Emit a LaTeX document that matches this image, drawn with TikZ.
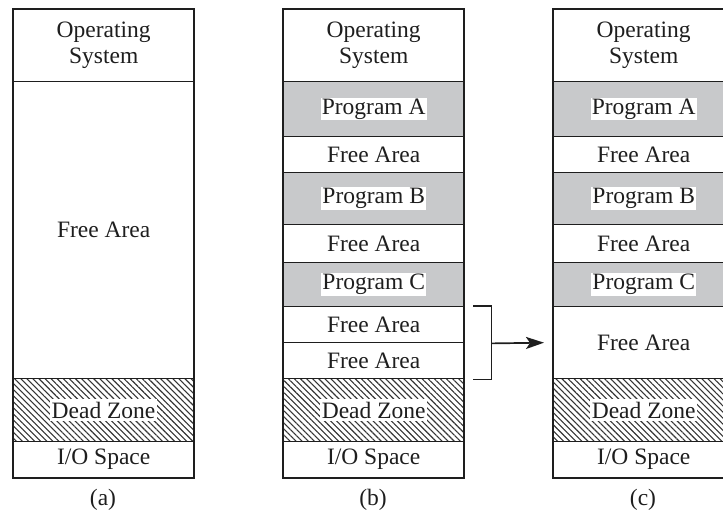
\documentclass[tikz,border=0pt]{standalone}
\usepackage{fontspec}
\setmainfont{Liberation Serif}
\usetikzlibrary{patterns.meta,arrows.meta}
\definecolor{prog}{RGB}{200,201,203}
\definecolor{ink}{RGB}{30,30,30}
\tikzset{
 cell/.style={draw=ink, line width=1.4pt, rectangle, minimum width=180pt, inner sep=0pt, anchor=north west},
 progcell/.style={cell, fill=prog},
 deadcell/.style={cell, pattern={Lines[angle=-45,distance=4.3pt,line width=1.1pt]}, pattern color=ink!90},
 txt/.style={font=\fontsize{23.5}{26}\selectfont, text=ink, align=center, inner sep=1pt},
 wtxt/.style={txt, fill=white},
 dtxt/.style={txt, fill=white, inner xsep=1.5pt, inner ysep=3pt},
 frame/.style={draw=ink, line width=2pt},
 conn/.style={draw=ink, line width=1.7pt},
}
\begin{document}
\begin{tikzpicture}[x=1pt,y=-1pt]
\clip (0,0) rectangle (723,510);
% ---------- column (a)
\node[cell, minimum height=72pt] (aOS) at (13,9) {};
\node[cell, minimum height=297pt] (aF) at (13,81) {};
\node[deadcell, minimum height=63pt] (aD) at (13,378) {};
\node[cell, minimum height=36pt] (aIO) at (13,441) {};
\draw[frame] (aOS.north west) rectangle (aIO.south east);
\node[txt] at (aOS.center) {Operating\\System};
\node[txt] at (aF.center) {Free Area};
\node[dtxt] at (aD.center) {Dead Zone};
\node[txt] at (aIO.center) {I/O Space};
\node[txt] (la) at (103,500) {(a)};
% ---------- column (b)
\node[cell, minimum height=72pt] (bOS) at (283,9) {};
\node[progcell, minimum height=55pt] (bA) at (283,81) {};
\node[cell, minimum height=36pt] (bF1) at (283,136) {};
\node[progcell, minimum height=52pt] (bB) at (283,172) {};
\node[cell, minimum height=38pt] (bF2) at (283,224) {};
\node[progcell, minimum height=44pt] (bC) at (283,262) {};
\node[cell, minimum height=36pt] (bF3) at (283,306) {};
\node[cell, minimum height=36pt] (bF4) at (283,342) {};
\node[deadcell, minimum height=63pt] (bD) at (283,378) {};
\node[cell, minimum height=36pt] (bIO) at (283,441) {};
\draw[frame] (bOS.north west) rectangle (bIO.south east);
\node[txt] at (bOS.center) {Operating\\System};
\node[wtxt] at (bA.center) {Program A};
\node[txt] at (bF1.center) {Free Area};
\node[wtxt] at (bB.center) {Program B};
\node[txt] at (bF2.center) {Free Area};
\node[wtxt] at (bC.center) {Program C};
\node[txt] at (bF3.center) {Free Area};
\node[txt] at (bF4.center) {Free Area};
\node[dtxt] at (bD.center) {Dead Zone};
\node[txt] at (bIO.center) {I/O Space};
\node[txt] (lb) at (373,500) {(b)};
% ---------- column (c)
\node[cell, minimum height=72pt] (cOS) at (553,9) {};
\node[progcell, minimum height=55pt] (cA) at (553,81) {};
\node[cell, minimum height=36pt] (cF1) at (553,136) {};
\node[progcell, minimum height=52pt] (cB) at (553,172) {};
\node[cell, minimum height=38pt] (cF2) at (553,224) {};
\node[progcell, minimum height=44pt] (cC) at (553,262) {};
\node[cell, minimum height=72pt] (cF3) at (553,306) {};
\node[deadcell, minimum height=63pt] (cD) at (553,378) {};
\node[cell, minimum height=36pt] (cIO) at (553,441) {};
\draw[frame] (cOS.north west) rectangle (cIO.south east);
\node[txt] at (cOS.center) {Operating\\System};
\node[wtxt] at (cA.center) {Program A};
\node[txt] at (cF1.center) {Free Area};
\node[wtxt] at (cB.center) {Program B};
\node[txt] at (cF2.center) {Free Area};
\node[wtxt] at (cC.center) {Program C};
\node[txt] at (cF3.center) {Free Area};
\node[dtxt] at (cD.center) {Dead Zone};
\node[txt] at (cIO.center) {I/O Space};
\node[txt] (lc) at (643,500) {(c)};
% ---------- bracket and arrow
\coordinate (brT) at ([xshift=9pt]bF3.north east);
\coordinate (brB) at ([xshift=9pt]bF4.south east);
\coordinate (brM) at ([xshift=27pt]bF3.south east);
\coordinate (arE) at ([xshift=-9pt]cF3.west);
\draw[conn] (brT) -- ++(18,0) -- ([xshift=18pt]brB) -- (brB);
\draw[conn, -{Stealth[length=18pt,width=12pt,inset=4pt]}] (brM) -- (arE);
\end{tikzpicture}
\end{document}
